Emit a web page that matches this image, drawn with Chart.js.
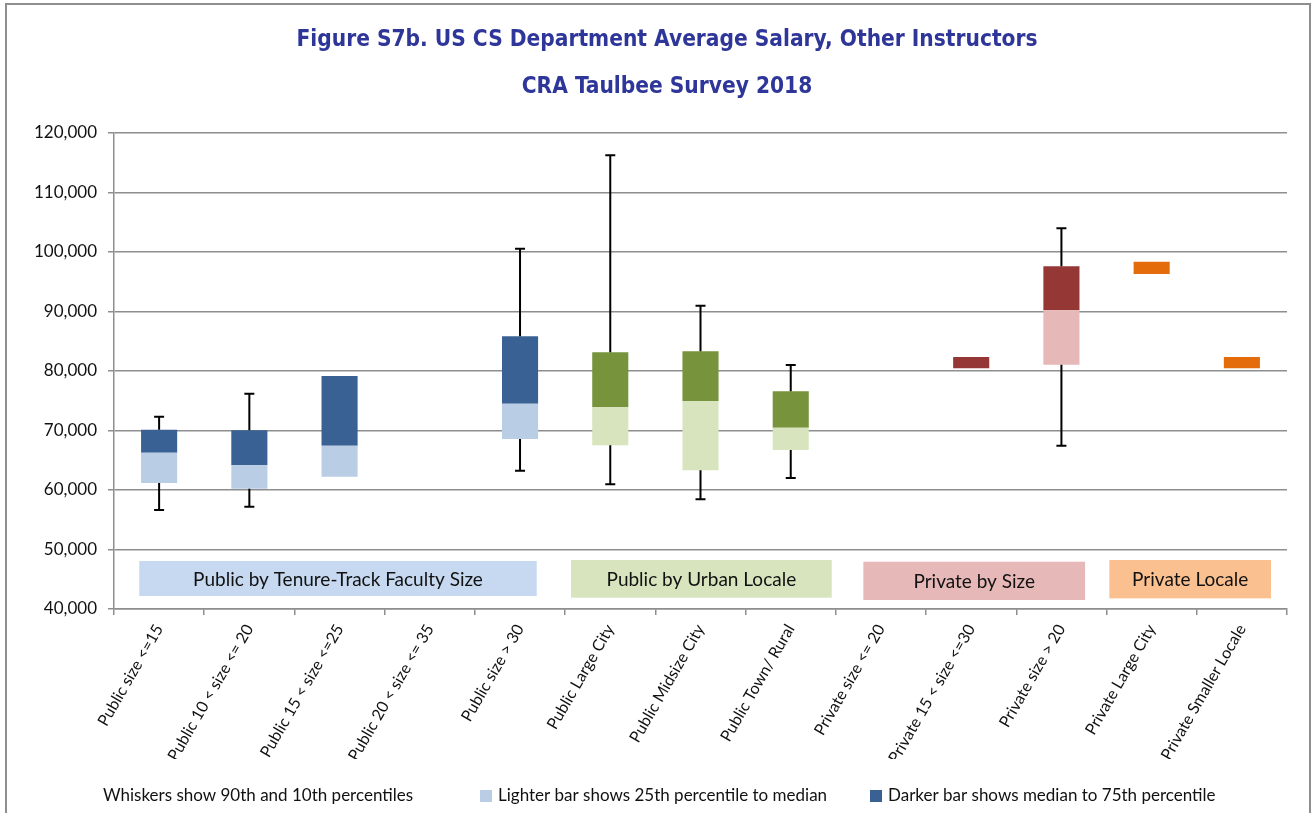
<!DOCTYPE html>
<html>
<head>
<meta charset="utf-8">
<script src="https://cdn.jsdelivr.net/npm/chart.js@4/dist/chart.umd.min.js"></script>
<style>
  html, body { margin: 0; padding: 0; background: #fff; }
  #wrap { width: 1312px; height: 813px; position: relative; }
</style>
</head>
<body>
<div id="wrap"><canvas id="chart" width="1312" height="813"></canvas></div>
<script>
// ---- data ----
const titleLines = ["Figure S7b. US CS Department Average Salary, Other Instructors", "CRA Taulbee Survey 2018"];
const categories = [
  "Public size <=15", "Public 10 < size <= 20", "Public 15 < size <=25", "Public 20 < size <= 35",
  "Public size > 30", "Public Large City", "Public Midsize City", "Public Town/ Rural",
  "Private size <= 20", "Private 15 < size <=30", "Private size > 20", "Private Large City",
  "Private Smaller Locale",
];
const p10    = [56640, 57190, null, null, 63240, 60960, 58440, 62020, null, null,  67440, null,  null];
const p25    = [61180, 60220, 62240, null, 68570, 67510, 63310, 66720, null, null,  81060, null,  null];
const median = [66270, 64150, 67450, null, 74500, 73900, 74960, 70470, null, 80450, 90200, 96300, 80450];
const p75    = [70130, 70030, 79160, null, 85830, 83140, 83310, 76590, null, 82350, 97600, 98370, 82350];
const p90    = [72320, 76180, null, null, 100550, 116250, 90980, 81010, null, null, 103980, null, null];
const yTicks = [40000, 50000, 60000, 70000, 80000, 90000, 100000, 110000, 120000];

const groups = [
  { label: "Public by Tenure-Track Faculty Size", from: 0, to: 4 },
  { label: "Public by Urban Locale", from: 5, to: 7 },
  { label: "Private by Size", from: 8, to: 10 },
  { label: "Private Locale", from: 11, to: 12 },
];

// ---- styles ----
const DARK  = ["#3a6194", "#3a6194", "#3a6194", "#3a6194", "#3a6194", "#77933c", "#77933c", "#77933c",
               "#953735", "#953735", "#953735", "#e46c0a", "#e46c0a"];
const LIGHT = ["#b9cde5", "#b9cde5", "#b9cde5", "#b9cde5", "#b9cde5", "#d7e4bd", "#d7e4bd", "#d7e4bd",
               "#e6b9b8", "#e6b9b8", "#e6b9b8", "#e46c0a", "#e46c0a"];
const GROUP_STYLE = [
  { fill: "#c6d9f1", x0: -0.22, x1: 0.185, top: 48070, bottom: 42185 },
  { fill: "#d7e4bd", x0: -0.435, x1: 0.454, top: 48235, bottom: 41900 },
  { fill: "#e6b9b8", x0: -0.195, x1: 0.262, top: 47950, bottom: 41510 },
  { fill: "#fac090", x0: -0.469, x1: 0.323, top: 48235, bottom: 41790 },
];
const GRID = "#8e8e8e";
const FONT = "Lato, 'Open Sans', sans-serif";
const TITLE_FONT = "bold 22.5px 'Liberation Sans Narrow', 'DejaVu Sans Condensed', sans-serif";

const lightData = categories.map((_, i) => (p25[i] != null && median[i] != null ? [p25[i], median[i]] : null));
const darkData  = categories.map((_, i) => (median[i] != null && p75[i] != null ? [median[i], p75[i]] : null));

// frame, titles, group boxes, whiskers, footer legend
const decorations = {
  id: "decorations",
  beforeDraw(chart) {
    const c = chart.ctx;
    c.save();
    c.strokeStyle = GRID;
    c.lineWidth = 2;
    c.strokeRect(6, 4, 1304, 840);
    c.fillStyle = "#2f3699";
    c.font = TITLE_FONT;
    c.textAlign = "center";
    c.textBaseline = "middle";
    c.fillText(titleLines[0], 667, 40);
    c.fillText(titleLines[1], 667, 87);
    c.restore();
  },
  beforeDatasetsDraw(chart) {
    const c = chart.ctx, x = chart.scales.x, y = chart.scales.y;
    c.save();
    groups.forEach((g, k) => {
      const s = GROUP_STYLE[k];
      const left = x.getPixelForValue(g.from + s.x0);
      const right = x.getPixelForValue(g.to + s.x1);
      const top = y.getPixelForValue(s.top);
      const bottom = y.getPixelForValue(s.bottom);
      c.fillStyle = s.fill;
      c.fillRect(left, top, right - left, bottom - top);
      c.fillStyle = "#111";
      c.font = "19px " + FONT;
      c.textAlign = "center";
      c.textBaseline = "middle";
      c.fillText(g.label, (left + right) / 2, (top + bottom) / 2 + 1);
    });
    c.restore();
  },
  afterDatasetsDraw(chart) {
    const c = chart.ctx, x = chart.scales.x, y = chart.scales.y;
    c.save();
    c.strokeStyle = "#000";
    c.lineWidth = 2;
    categories.forEach((_, i) => {
      const px = x.getPixelForValue(i);
      const ends = [[p75[i], p90[i]], [p25[i], p10[i]]];
      ends.forEach(([from, to]) => {
        if (from == null || to == null) return;
        const y0 = y.getPixelForValue(from), y1 = y.getPixelForValue(to);
        c.beginPath();
        c.moveTo(px, y0);
        c.lineTo(px, y1);
        c.moveTo(px - 5, y1);
        c.lineTo(px + 5, y1);
        c.stroke();
      });
    });
    c.restore();
  },
  afterDraw(chart) {
    const c = chart.ctx;
    c.save();
    c.font = "17px " + FONT;
    c.fillStyle = "#111";
    c.textBaseline = "middle";
    c.textAlign = "left";
    const yy = 796;
    c.fillText("Whiskers show 90th and 10th percentiles", 103, yy);
    c.fillStyle = "#b9cde5";
    c.fillRect(480, yy - 6, 12, 12);
    c.fillStyle = "#111";
    c.fillText("Lighter bar shows 25th percentile to median", 498, yy);
    c.fillStyle = "#3a6194";
    c.fillRect(870, yy - 6, 12, 12);
    c.fillStyle = "#111";
    c.fillText("Darker bar shows median to 75th percentile", 888, yy);
    c.restore();
  },
};

new Chart(document.getElementById("chart"), {
  type: "bar",
  data: {
    labels: categories,
    datasets: [
      { label: "25th to median", data: lightData, backgroundColor: LIGHT },
      { label: "median to 75th", data: darkData, backgroundColor: DARK },
    ],
  },
  options: {
    responsive: false,
    animation: false,
    categoryPercentage: 0.4,
    barPercentage: 1,
    layout: { padding: { left: 0, right: 25, bottom: 54, top: 133 } },
    plugins: {
      legend: { display: false },
      tooltip: { enabled: false },
      title: { display: false },
    },
    scales: {
      x: {
        stacked: true,
        afterFit: (s) => { s.height = 150; },
        grid: { drawOnChartArea: false, drawTicks: true, tickLength: 6, color: GRID, lineWidth: 1.5 },
        border: { color: GRID, width: 1.5 },
        ticks: { color: "#111", font: { family: FONT, size: 16 }, minRotation: 60, maxRotation: 60, autoSkip: false, padding: 6 },
      },
      y: {
        min: 40000,
        max: 120000,
        afterFit: (s) => { s.width = 114; },
        afterBuildTicks: (s) => { s.ticks = yTicks.map((v) => ({ value: v })); },
        grid: { color: GRID, lineWidth: 1.5, tickLength: 6 },
        border: { color: GRID, width: 1.5 },
        ticks: { color: "#111", font: { family: FONT, size: 17 }, padding: 11, callback: (v) => v.toLocaleString("en-US") },
      },
    },
  },
  plugins: [decorations],
});
</script>
</body>
</html>
